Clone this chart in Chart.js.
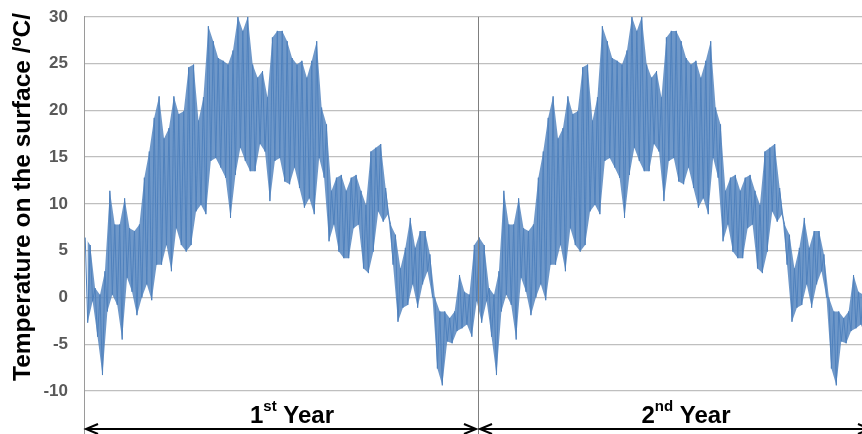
<!DOCTYPE html>
<html>
<head>
<meta charset="utf-8">
<script src="https://cdn.jsdelivr.net/npm/chart.js@4/dist/chart.umd.min.js"></script>
<style>
  html, body { margin: 0; padding: 0; background: #fff; overflow: hidden; }
  #wrap { width: 880px; height: 434px; }
</style>
</head>
<body>
<div id="wrap"><canvas id="tempChart" width="880" height="434"></canvas></div>
<script>
const yearHigh = [
  6.4, 5.6, 1.0, 0.3, 2.8, 11.4, 7.8, 7.8, 10.6, 7.4, 7.1, 7.8, 12.8, 15.6, 19.2, 21.5, 17.0, 18.1, 21.5, 19.6,
  19.9, 24.6, 24.9, 18.9, 21.4, 29.0, 27.4, 25.6, 25.3, 24.9, 26.4, 30.0, 28.5, 30.0, 24.9, 23.5, 24.2, 21.4, 27.8, 28.5,
  28.5, 27.4, 25.6, 24.9, 25.3, 23.5, 25.3, 27.4, 20.3, 18.5, 11.4, 12.8, 13.1, 11.4, 12.8, 13.1, 11.4, 9.9, 15.6, 16.0,
  16.4, 11.7, 7.8, 6.7, 3.1, 5.3, 8.5, 5.3, 7.1, 7.1, 4.6, 0.0, -1.5, -1.5, -2.2, -1.5, 2.4, 0.6, 0.3, 5.6
];
const yearLow = [
  -2.7, -0.4, -4.2, -8.3, -1.5, 0.3, -0.8, -4.5, 2.1, 0.6, -1.9, 0.0, 1.4, -0.3, 3.5, 3.5, 5.6, 2.8, 7.4, 5.6,
  4.9, 5.6, 9.2, 9.9, 8.9, 14.6, 14.9, 13.9, 12.8, 8.5, 13.1, 16.0, 14.6, 13.5, 13.5, 16.4, 15.6, 10.3, 14.6, 14.9,
  12.4, 12.1, 13.9, 11.7, 9.6, 10.6, 8.9, 14.9, 12.8, 6.0, 7.8, 4.9, 4.2, 4.2, 7.4, 7.8, 3.1, 2.6, 4.9, 9.2,
  8.1, 8.9, 3.5, -2.6, -1.1, -0.8, 1.4, -1.1, 1.4, 2.8, 0.0, -7.6, -9.4, -4.7, -4.9, -3.6, -3.3, -2.9, -4.2, -0.4
];
const yearLabels = [["1", "st"], ["2", "nd"]];
const yTicks = [-10, -5, 0, 5, 10, 15, 20, 25, 30];
const yTitle = "Temperature on the surface /\u00BAC/";
const daysPerYear = 365;

// same year repeated twice; hi/lo of each slice become consecutive points
const zig = [], hiPts = [], loPts = [];
const slice = daysPerYear / yearHigh.length;
yearLabels.forEach((_, yr) => {
  yearHigh.forEach((hi, k) => {
    const t0 = yr * daysPerYear + k * slice;
    const a = { x: t0 + slice * 0.25, y: hi };
    const b = { x: t0 + slice * 0.75, y: yearLow[k] };
    zig.push(a, b);
    hiPts.push(a);
    loPts.push(b);
  });
});

const decor = {
  id: "decor",
  afterDraw(chart) {
    const { ctx, chartArea, scales } = chart;
    const x = scales.x;
    const ay = chart.height - 5;
    ctx.save();

    // left axis runs down to the bottom edge
    ctx.strokeStyle = "#9a9a9a";
    ctx.lineWidth = 1;
    ctx.beginPath();
    ctx.moveTo(chartArea.left + 0.5, chartArea.bottom);
    ctx.lineTo(chartArea.left + 0.5, chart.height);
    ctx.stroke();

    // year boundary
    const xb = Math.round(x.getPixelForValue(daysPerYear)) + 0.5;
    ctx.strokeStyle = "#7f7f7f";
    ctx.beginPath();
    ctx.moveTo(xb, chartArea.top);
    ctx.lineTo(xb, chart.height);
    ctx.stroke();

    // arrows + labels under each year
    ctx.strokeStyle = "#000";
    ctx.lineWidth = 2;
    yearLabels.forEach((lab, yr) => {
      const a = x.getPixelForValue(yr * daysPerYear) + 2;
      const b = x.getPixelForValue((yr + 1) * daysPerYear) - 2;
      ctx.beginPath();
      ctx.moveTo(a, ay); ctx.lineTo(b, ay);
      ctx.moveTo(a + 12, ay - 5); ctx.lineTo(a, ay); ctx.lineTo(a + 12, ay + 5);
      ctx.moveTo(b - 12, ay - 5); ctx.lineTo(b, ay); ctx.lineTo(b - 12, ay + 5);
      ctx.stroke();

      const big = "bold 24px 'Liberation Sans', Arial, sans-serif";
      const small = "bold 15px 'Liberation Sans', Arial, sans-serif";
      ctx.font = big;
      const w1 = ctx.measureText(lab[0]).width;
      const w3 = ctx.measureText(" Year").width;
      ctx.font = small;
      const w2 = ctx.measureText(lab[1]).width;
      const cx = (a + b) / 2 + 11;
      const sx = cx - (w1 + w2 + w3) / 2;
      ctx.fillStyle = "#000";
      ctx.textBaseline = "alphabetic";
      ctx.textAlign = "left";
      ctx.font = big;
      ctx.fillText(lab[0], sx, 423);
      ctx.font = small;
      ctx.fillText(lab[1], sx + w1, 411);
      ctx.font = big;
      ctx.fillText(" Year", sx + w1 + w2, 423);
    });

    // y title
    ctx.translate(23, 197);
    ctx.rotate(-Math.PI / 2);
    ctx.font = "bold 24.5px 'Liberation Sans', Arial, sans-serif";
    ctx.textAlign = "center";
    ctx.textBaseline = "middle";
    ctx.fillStyle = "#000";
    ctx.fillText(yTitle, 0, 0);
    ctx.restore();
  }
};

const tempChart = new Chart(document.getElementById("tempChart").getContext("2d"), {
  type: "line",
  data: {
    datasets: [
      {
        data: hiPts,
        borderWidth: 0,
        pointRadius: 0,
        fill: "+1",
        backgroundColor: "rgba(79, 129, 189, 0.82)",
      },
      {
        data: loPts,
        borderWidth: 0,
        pointRadius: 0,
        fill: false,
      },
      {
        data: zig,
        borderColor: "#4F81BD",
        borderWidth: 1,
        pointRadius: 0,
        tension: 0,
        fill: false,
      },
    ],
  },
  options: {
    responsive: false,
    animation: false,
    layout: { padding: { left: 0, top: 13, right: 8, bottom: 5 } },
    plugins: {
      legend: { display: false },
      tooltip: { enabled: false },
    },
    scales: {
      x: {
        type: "linear",
        display: false,
        min: 0,
        max: 2 * daysPerYear,
      },
      y: {
        min: -12.8,
        max: 30,
        afterBuildTicks: (scale) => {
          scale.ticks = yTicks.map((v) => ({ value: v }));
        },
        afterFit: (scale) => {
          scale.width = 84;
        },
        ticks: {
          padding: 16,
          color: "#595959",
          font: { family: "'Liberation Sans', Arial, sans-serif", size: 17, weight: "bold", lineHeight: 0.1 },
        },
        grid: {
          color: "#bfbfbf",
          lineWidth: 1.3,
          drawTicks: false,
        },
        border: { color: "#9a9a9a", width: 1 },
      },
    },
  },
  plugins: [decor],
});
</script>
</body>
</html>
